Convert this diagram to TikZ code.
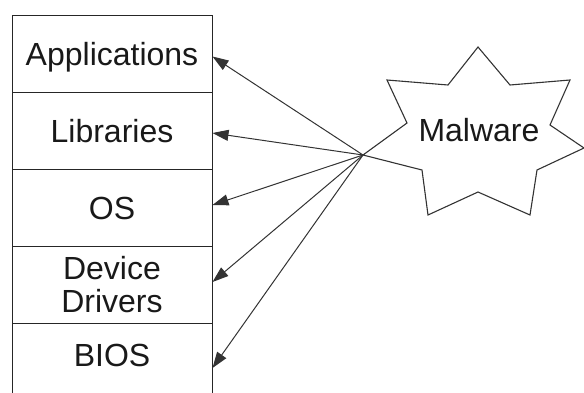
\documentclass[tikz,border=0pt]{standalone}
\usepackage{fontspec}
\setmainfont{Liberation Sans}
\usetikzlibrary{arrows.meta}
\begin{document}
\begin{tikzpicture}[x=1pt,y=-1pt,
  label font/.style={font=\fontsize{32}{33}\selectfont, text=black!90},
  layer/.style={label font, draw=black!85, line width=1pt, rectangle,
    minimum width=200pt, minimum height=77pt, inner sep=0pt,
    text height=23pt, text depth=0pt},
  attack/.style={draw=black!80, line width=1pt,
    -{Triangle[length=16pt,width=11pt]}},
  starline/.style={draw=black!80, line width=1.1pt}]
\useasboundingbox (0,0) rectangle (584,392);

% the software stack
\node[layer] (app)  at (112,53.5)  {Applications};
\node[layer] (lib)  at (112,130.5) {Libraries};
\node[layer] (os)   at (112,207.5) {OS};
\node[layer, text height=, text depth=, align=center] (dd) at (112,284.5) {Device\\Drivers};
\node[layer, text depth=13pt] (bios) at (112,361.5) {BIOS};

% the malware star
\draw[starline] (478,47) -- (510,85) -- (570,80) -- (550,125) -- (584,148)
  -- (537,170) -- (530,215) -- (478,192) -- (428,215) -- (422,170)
  -- (363,155) -- (407,123) -- (387,80) -- (448,85) -- cycle;
\coordinate (src) at (363,155);
\node[label font] (mal) at (479,130) {Malware};

% attacks on every layer
\draw[attack] (src) -- ([yshift=-3pt]app.east);
\draw[attack] (src) -- ([yshift=-2.5pt]lib.east);
\draw[attack] (src) -- ([yshift=2.5pt]os.east);
\draw[attack] (src) -- ([yshift=2.5pt]dd.east);
\draw[attack] (src) -- ([yshift=-6.5pt]bios.east);
\end{tikzpicture}
\end{document}
